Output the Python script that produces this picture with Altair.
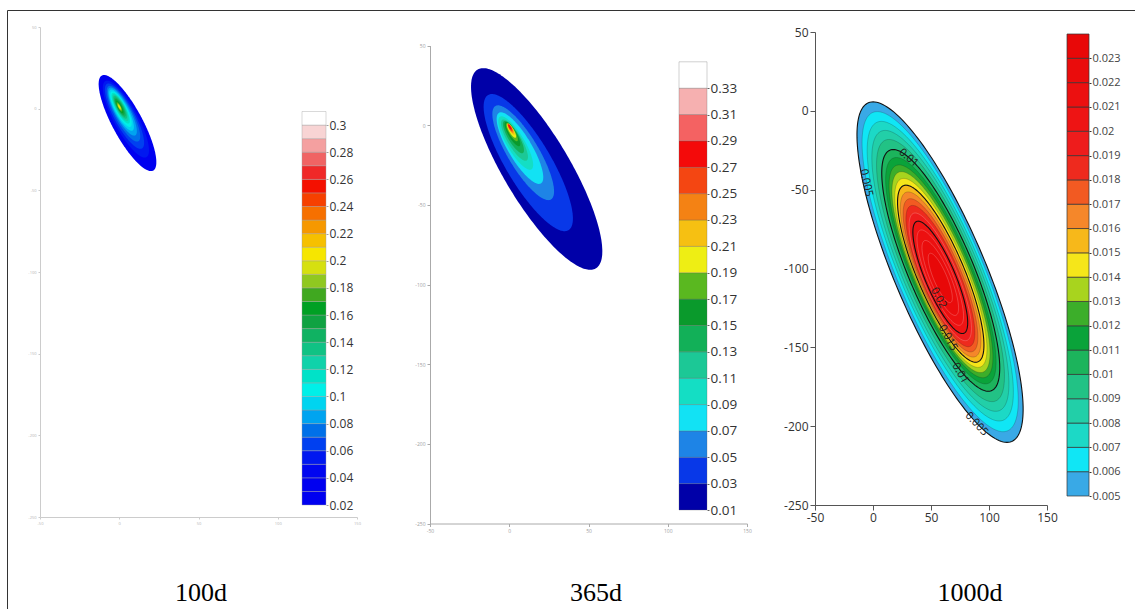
import math
import pandas as pd
import altair as alt

W, H = 1135, 609

# ------------------------------------------------------------------ data
captions = ["100d", "365d", "1000d"]
x_ticks = [-50, 0, 50, 100, 150]
y_ticks = [50, 0, -50, -100, -150, -200, -250]

# ---- 100d : nested contour levels (lower bound), relative size, centre
p1_levels = [0.02, 0.05, 0.06, 0.07, 0.08, 0.09, 0.10, 0.11, 0.12, 0.13, 0.14, 0.15, 0.16, 0.17, 0.18, 0.19, 0.20]
p1_size = [1.0, 0.80, 0.68, 0.58, 0.50, 0.43, 0.37, 0.32, 0.28, 0.24, 0.20, 0.165, 0.13, 0.10, 0.075, 0.05, 0.03]
p1_cx = [5.2, 4.2, 3.3, 2.65, 2.0, 1.4, 1.1, 0.9, 0.75, 0.6, 0.45, 0.3, 0.2, 0.1, 0.1, 0.1, 0.1]
p1_cy = [-8.8, -6.4, -4.6, -3.1, -1.8, -0.9, -0.3, 0.3, 0.6, 0.9, 1.0, 1.1, 1.1, 1.1, 1.1, 1.1, 1.1]
p1_axes = [16.2, -29.1, -8.3, -4.37]          # major (dx, dy), minor (dx, dy)
p1_bar_bounds = [0.02, 0.03, 0.04, 0.05, 0.06, 0.07, 0.08, 0.09, 0.10, 0.11, 0.12, 0.13, 0.14, 0.15,
                 0.16, 0.17, 0.18, 0.19, 0.20, 0.21, 0.22, 0.23, 0.24, 0.25, 0.26, 0.27, 0.28, 0.29, 0.30, 0.31]
p1_bar_colors = ["#0000F0", "#0000F0", "#0006F0", "#0018F0", "#0040F0", "#0070E8", "#00A4F0", "#00D4F0",
                 "#00F0E8", "#00E2C8", "#10D2AA", "#10C284", "#10B262", "#10A242", "#00A024", "#40A820",
                 "#90C820", "#D6E010", "#F6E600", "#F6C000", "#F69800", "#F67000", "#F64000", "#F41000",
                 "#F02828", "#F06464", "#F4A0A0", "#F8D4D4", "#FFFFFF"]
p1_bar_labels = [0.02, 0.04, 0.06, 0.08, 0.1, 0.12, 0.14, 0.16, 0.18, 0.2, 0.22, 0.24, 0.26, 0.28, 0.3]

# ---- 365d
p2_levels = [0.01, 0.03, 0.05, 0.07, 0.09, 0.11, 0.13, 0.15, 0.17, 0.19, 0.21, 0.23, 0.25, 0.27]
p2_size = [1.0, 0.68, 0.47, 0.355, 0.265, 0.205, 0.16, 0.12, 0.09, 0.07, 0.055, 0.045, 0.035, 0.025]
p2_cx = [17.3, 12.0, 8.8, 6.75, 4.1, 3.3, 2.65, 2.0, 1.7, 1.4, 1.1, 0.75, 0.6, 0.45]
p2_cy = [-27.5, -23.5, -17.3, -14.4, -11.2, -9.4, -7.5, -5.6, -4.4, -3.5, -2.5, -1.9, -1.6, -1.25]
p2_axes = [37.3, -62.4, -18.0, -10.6]
p2_bar_bounds = [0.01, 0.03, 0.05, 0.07, 0.09, 0.11, 0.13, 0.15, 0.17, 0.19, 0.21, 0.23, 0.25, 0.27,
                 0.29, 0.31, 0.33, 0.35]
p2_bar_colors = ["#0000A8", "#0838E8", "#1E84E6", "#12E2F4", "#14DEC4", "#1CC896", "#12B058", "#0A9A2C",
                 "#5AB820", "#EEEE14", "#F6C012", "#F48214", "#F44612", "#F40A0A", "#F46262", "#F6B0B0",
                 "#FFFFFF"]
p2_bar_labels = [0.01, 0.03, 0.05, 0.07, 0.09, 0.11, 0.13, 0.15, 0.17, 0.19, 0.21, 0.23, 0.25, 0.27,
                 0.29, 0.31, 0.33]

# ---- 1000d
p3_levels = [0.005, 0.006, 0.007, 0.008, 0.009, 0.010, 0.011, 0.012, 0.013, 0.014, 0.015, 0.016,
             0.017, 0.018, 0.019, 0.020, 0.021, 0.022, 0.023]
p3_size = [1.0, 0.94, 0.88, 0.825, 0.77, 0.71, 0.665, 0.625, 0.59, 0.555, 0.52, 0.485, 0.45, 0.415,
           0.375, 0.33, 0.28, 0.22, 0.145]
p3_cx = [57.8, 57.9, 58.0, 58.1, 58.2, 58.4, 58.5, 58.6, 58.6, 58.5, 58.4, 58.3, 58.2, 58.1, 58.0,
         58.0, 58.0, 58.0, 58.0]
p3_cy = [-102.3, -102.0, -101.7, -101.5, -101.3, -101.2, -101.4, -101.8, -102.3, -102.8, -103.3,
         -103.8, -104.3, -104.8, -105.3, -105.6, -105.8, -106.0, -106.0]
p3_axes = [61.8, -107.4, -36.2, -11.2]
p3_bar_bounds = [0.005, 0.006, 0.007, 0.008, 0.009, 0.010, 0.011, 0.012, 0.013, 0.014, 0.015, 0.016,
                 0.017, 0.018, 0.019, 0.020, 0.021, 0.022, 0.023, 0.024]
p3_bar_colors = ["#39A9E6", "#10E6F5", "#1CD9C6", "#22CFA8", "#22C285", "#1CB45C", "#0AA33A", "#3CAE2A",
                 "#A8D41E", "#F5E61A", "#F7B81A", "#F5872A", "#F25A22", "#EE2A1E", "#EE1C1C", "#EE1414",
                 "#EC1010", "#EA0C0C", "#E80808"]
p3_bar_labels = [0.005, 0.006, 0.007, 0.008, 0.009, 0.01, 0.011, 0.012, 0.013, 0.014, 0.015, 0.016,
                 0.017, 0.018, 0.019, 0.02, 0.021, 0.022, 0.023]
p3_major_lines = [0.005, 0.010, 0.015, 0.020]
p3_label_text = ["0.005", "0.01", "0.01", "0.015", "0.02", "0.005"]
p3_label_x = [-6.0, 30.6, 75.0, 64.5, 56.5, 89.2]
p3_label_y = [-45.7, -29.9, -166.4, -144.0, -118.7, -198.7]
p3_label_angle = [78, 40, 60, 62, 62, 47]

# ------------------------------------------------------------------ layout / style
LAY = [
    dict(x0=40, x1=357, yb=517, yt=27, bx0=302, bx1=326, byb=505, byt=111.5,
         fs=4, fc="#b4b4b4", lc="#cccccc", ts=2, bfs=12, bfc="#333333", bstroke="#a0a0a0", bsw=0.4,
         cap_x=201),
    dict(x0=430, x1=747, yb=523.5, yt=45.5, bx0=679, bx1=707, byb=510, byt=61.8,
         fs=5, fc="#a0a0a0", lc="#aaaaaa", ts=3, bfs=13.5, bfc="#333333", bstroke="#606060", bsw=0.3,
         cap_x=596),
    dict(x0=815, x1=1047, yb=505, yt=32, bx0=1067, bx1=1089, byb=496, byt=34,
         fs=12, fc="#333333", lc="#555555", ts=5, bfs=11, bfc="#444444", bstroke="#333333", bsw=0.7,
         cap_x=970),
]
CAP_Y = 601
LABEL_FONT = "Liberation Sans Narrow, Open Sans, sans-serif"


def ellipse_band(key, color, cx, cy, s, ax, n=110):
    px, py, qx, qy = ax
    R = s * math.hypot(px, qx)
    a = math.atan2(qx, px)
    rows = []
    for i in range(n + 1):
        u = math.pi * i / n
        x = cx + R * math.cos(u)
        t1, t2 = a + u, a - u
        y1 = cy + s * (py * math.cos(t1) + qy * math.sin(t1))
        y2 = cy + s * (py * math.cos(t2) + qy * math.sin(t2))
        rows.append(dict(key=key, color=color, x=x, ylo=min(y1, y2), yhi=max(y1, y2)))
    return rows


def ellipse_ring(key, cx, cy, s, ax, n=180):
    px, py, qx, qy = ax
    rows = []
    for i in range(n + 1):
        t = 2 * math.pi * i / n
        rows.append(dict(key=key, i=i,
                         x=cx + s * (px * math.cos(t) + qx * math.sin(t)),
                         y=cy + s * (py * math.cos(t) + qy * math.sin(t))))
    return rows


def color_for(level, bounds, colors):
    for k in range(len(colors)):
        if bounds[k] - 1e-9 <= level < bounds[k + 1] - 1e-9:
            return colors[k]
    return colors[-1]


def scales(L):
    xs = alt.Scale(domain=[-50, 150], range=[L["x0"], L["x1"]], nice=False, zero=False)
    ys = alt.Scale(domain=[-250, 50], range=[L["yb"], L["yt"]], nice=False, zero=False)
    return xs, ys


def panel_layers(L, levels, size, cxs, cys, ax, bounds, colors, labels):
    xs, ys = scales(L)
    rows = []
    for k, lv in enumerate(levels):
        rows += ellipse_band("b%02d" % k, color_for(lv, bounds, colors), cxs[k], cys[k], size[k], ax)
    df = pd.DataFrame(rows)
    xaxis = alt.Axis(orient="bottom", offset=L["yb"] - H, values=x_ticks, grid=False, title=None,
                     domainColor=L["lc"], tickColor=L["lc"], tickSize=L["ts"], labelFontSize=L["fs"],
                     labelColor=L["fc"], labelFont=LABEL_FONT, labelFlush=False, labelOverlap=False,
                     labelPadding=2, labelExpr="'' + datum.value")
    yaxis = alt.Axis(orient="left", offset=-L["x0"], values=y_ticks, grid=False, title=None,
                     domainColor=L["lc"], tickColor=L["lc"], tickSize=L["ts"], labelFontSize=L["fs"],
                     labelColor=L["fc"], labelFont=LABEL_FONT, labelFlush=False, labelOverlap=False,
                     labelPadding=2, labelExpr="'' + datum.value")
    area = alt.Chart(df).mark_area(interpolate="linear").encode(
        x=alt.X("x:Q", scale=xs, axis=xaxis),
        y=alt.Y("ylo:Q", scale=ys, axis=yaxis, stack=None),
        y2="yhi:Q",
        color=alt.Color("color:N", scale=None),
        detail="key:N",
    )
    bar_df = pd.DataFrame(dict(lo=bounds[:-1], hi=bounds[1:], color=colors))
    bscale = alt.Scale(domain=[bounds[0], bounds[-1]], range=[L["byb"], L["byt"]], nice=False, zero=False)
    baxis = alt.Axis(orient="right", offset=L["bx1"] - W, values=labels, grid=False, title=None,
                     domain=False, ticks=True, tickSize=2, tickColor=L["bstroke"],
                     labelFontSize=L["bfs"], labelColor=L["bfc"], labelFont=LABEL_FONT,
                     labelFlush=False, labelOverlap=False, labelPadding=1,
                     labelExpr="'' + datum.value")
    bar = alt.Chart(bar_df).mark_rect(stroke=L["bstroke"], strokeWidth=L["bsw"]).encode(
        x=alt.value(L["bx0"]), x2=alt.value(L["bx1"]),
        y=alt.Y("lo:Q", scale=bscale, axis=baxis),
        y2="hi:Q",
        color=alt.Color("color:N", scale=None),
    )
    return [area, bar]


layers = []
layers += panel_layers(LAY[0], p1_levels, p1_size, p1_cx, p1_cy, p1_axes, p1_bar_bounds, p1_bar_colors, p1_bar_labels)
layers += panel_layers(LAY[1], p2_levels, p2_size, p2_cx, p2_cy, p2_axes, p2_bar_bounds, p2_bar_colors, p2_bar_labels)
layers += panel_layers(LAY[2], p3_levels, p3_size, p3_cx, p3_cy, p3_axes, p3_bar_bounds, p3_bar_colors, p3_bar_labels)

# contour lines + labels for 1000d
xs3, ys3 = scales(LAY[2])
minor_rows, major_rows = [], []
for k, lv in enumerate(p3_levels):
    ring = ellipse_ring("r%02d" % k, p3_cx[k], p3_cy[k], p3_size[k], p3_axes)
    if any(abs(lv - m) < 1e-9 for m in p3_major_lines):
        major_rows += ring
    else:
        for r in ring:
            r["lc"] = "#ffffff" if lv >= 0.0185 else "#1a1a1a"
        minor_rows += ring

minor = alt.Chart(pd.DataFrame(minor_rows)).mark_line(strokeWidth=0.6, opacity=0.35).encode(
    x=alt.X("x:Q", scale=xs3, axis=None), y=alt.Y("y:Q", scale=ys3, axis=None),
    color=alt.Color("lc:N", scale=None), detail="key:N", order="i:Q")
major = alt.Chart(pd.DataFrame(major_rows)).mark_line(strokeWidth=1.1, color="#111111").encode(
    x=alt.X("x:Q", scale=xs3, axis=None), y=alt.Y("y:Q", scale=ys3, axis=None),
    detail="key:N", order="i:Q")
lab_df = pd.DataFrame(dict(txt=p3_label_text, x=p3_label_x, y=p3_label_y, ang=p3_label_angle))
labs = alt.Chart(lab_df).mark_text(fontSize=11, font="Open Sans", color="#222222").encode(
    x=alt.X("x:Q", scale=xs3, axis=None), y=alt.Y("y:Q", scale=ys3, axis=None),
    angle=alt.Angle("ang:Q", scale=None), text="txt:N")
layers += [minor, major, labs]

# captions
for k, c in enumerate(captions):
    layers.append(
        alt.Chart(pd.DataFrame(dict(label=[c]))).mark_text(
            font="Liberation Serif", fontSize=26, color="#000000", baseline="alphabetic").encode(
            x=alt.value(LAY[k]["cap_x"]), y=alt.value(CAP_Y), text="label:N"))

# figure frame
layers.append(
    alt.Chart(pd.DataFrame(dict(a=[0]))).mark_rect(fillOpacity=0, stroke="#333333", strokeWidth=1).encode(
        x=alt.value(7.5), x2=alt.value(1200), y=alt.value(10.5), y2=alt.value(700)))

chart = alt.layer(*layers).resolve_scale(
    x="independent", y="independent", color="independent"
).resolve_axis(x="independent", y="independent").properties(
    width=W, height=H, padding=0, autosize=alt.AutoSizeParams(type="none"), background="white"
).configure_view(stroke=None)

chart.save("out.html", embed_options={"renderer": "svg", "actions": False})
